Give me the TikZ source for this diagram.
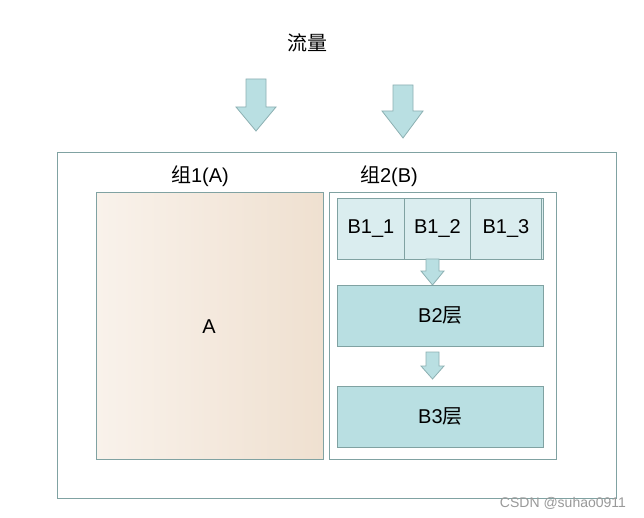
\documentclass[tikz,border=0pt]{standalone}
\usepackage{fontspec}
\setmainfont{Liberation Sans}
\newfontfamily\cjk{Noto Sans CJK SC}
\usetikzlibrary{positioning}

\definecolor{edgegray}{RGB}{128,162,162}
\definecolor{lightcyan}{RGB}{218,237,239}
\definecolor{midcyan}{RGB}{185,223,226}
\definecolor{arrowedge}{RGB}{140,176,178}
\definecolor{sandleft}{RGB}{249,242,235}
\definecolor{sandright}{RGB}{239,224,208}

\tikzset{
  box/.style={draw=edgegray, line width=0.8pt, inner sep=0pt, anchor=north west},
  txt/.style={font=\fontsize{20}{24}\selectfont},
  cell/.style={box, txt, fill=lightcyan, minimum height=61pt},
  layer/.style={box, fill=midcyan, minimum width=206pt, minimum height=61pt},
  blockarrow/.style={draw=arrowedge, fill=midcyan, line width=0.8pt, line join=miter}
}

\begin{document}
\begin{tikzpicture}[x=1pt, y=-1pt]
\useasboundingbox (0,0) rectangle (644,518);
\fill[white] (0,0) rectangle (644,518);

% traffic arrows
\node[txt] (flow) at (307,43) {\cjk 流量};
\draw[blockarrow] (246,79) -- (266,79) -- (266,107) -- (276,107) -- (256,131) -- (236,107) -- (246,107) -- cycle;
\draw[blockarrow] (393,85) -- (413,85) -- (413,111) -- (423,111) -- (403,138) -- (382,111) -- (393,111) -- cycle;

% outer frame
\node[box, minimum width=559pt, minimum height=346pt] (outer) at (57,152) {};

% group A
\node[txt] (gAlabel) at (200,176) {{\cjk 组}1(A)};
\node[box, left color=sandleft, right color=sandright, minimum width=227pt, minimum height=267pt] (gA) at (96,192) {};
\node[txt] (Atext) at (209,327) {A};

% group B
\node[txt] (gBlabel) at (389,176) {{\cjk 组}2(B)};
\node[box, fill=white, minimum width=227pt, minimum height=267pt] (gB) at (329,192) {};
\node[box, fill=lightcyan, minimum width=206pt, minimum height=61pt] (row1) at (337,198) {};
\node[cell, minimum width=67pt] (b11) at (337,198) {B1\_1};
\node[cell, minimum width=66pt] (b12) at (404,198) {B1\_2};
\node[cell, minimum width=71pt] (b13) at (470,198) {B1\_3};

\draw[blockarrow] (426,259) -- (439,259) -- (439,271) -- (444,271) -- (432.5,285) -- (421,271) -- (426,271) -- cycle;
\node[layer] (b2) at (337,285) {};
\node[txt] (b2text) at (b2.center) {B2{\cjk 层}};

\draw[blockarrow] (426,352) -- (439,352) -- (439,366) -- (444,366) -- (432.5,379) -- (421,366) -- (426,366) -- cycle;
\node[layer] (b3) at (337,386) {};
\node[txt] (b3text) at (b3.center) {B3{\cjk 层}};

% watermark
\node[text=gray!80, font=\fontsize{14}{16}\selectfont] (mark) at (563,503) {CSDN @suhao0911};
\end{tikzpicture}
\end{document}
